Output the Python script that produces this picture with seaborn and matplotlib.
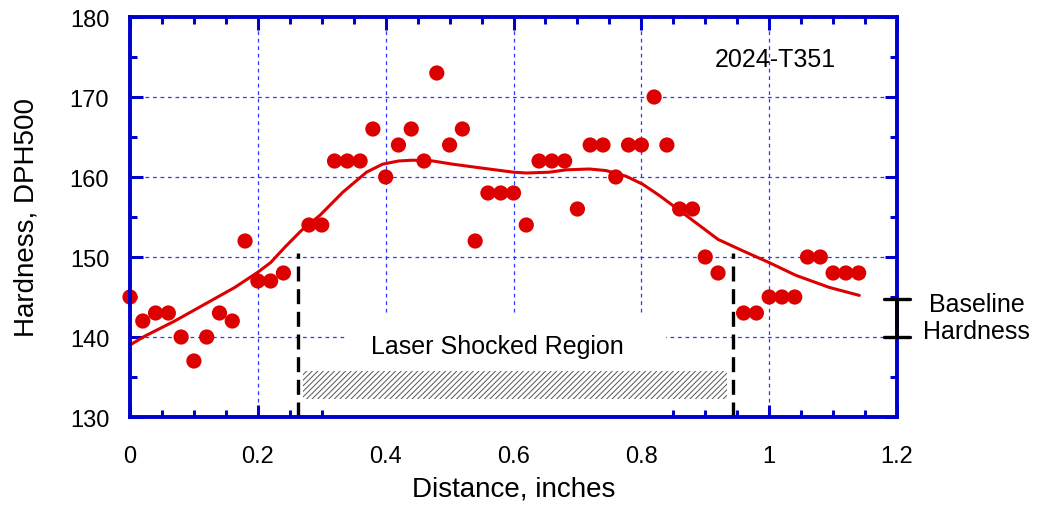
import matplotlib
matplotlib.use("Agg")
import matplotlib.pyplot as plt
from matplotlib.patches import Rectangle
from matplotlib.ticker import MultipleLocator
import seaborn as sns
import pandas as pd

# Microhardness traverse across a laser shocked 2024-T351 plate
distance = [0.00, 0.02, 0.04, 0.06, 0.08, 0.10, 0.12, 0.14, 0.16, 0.18,
            0.20, 0.22, 0.24, 0.28, 0.30, 0.32, 0.34, 0.36, 0.38, 0.40,
            0.42, 0.44, 0.46, 0.48, 0.50, 0.52, 0.54, 0.56, 0.58, 0.60,
            0.62, 0.64, 0.66, 0.68, 0.70, 0.72, 0.74, 0.76, 0.78, 0.80,
            0.82, 0.84, 0.86, 0.88, 0.90, 0.92, 0.96, 0.98, 1.00, 1.02,
            1.04, 1.06, 1.08, 1.10, 1.12, 1.14]
hardness = [145, 142, 143, 143, 140, 137, 140, 143, 142, 152,
            147, 147, 148, 154, 154, 162, 162, 162, 166, 160,
            164, 166, 162, 173, 164, 166, 152, 158, 158, 158,
            154, 162, 162, 162, 156, 164, 164, 160, 164, 164,
            170, 164, 156, 156, 150, 148, 143, 143, 145, 145,
            145, 150, 150, 148, 148, 148]

# Smoothed trend through the measurements
trend_x = [0.000, 0.023, 0.070, 0.117, 0.164, 0.200, 0.220, 0.242, 0.268,
           0.297, 0.333, 0.370, 0.395, 0.420, 0.442, 0.474, 0.505, 0.552,
           0.600, 0.620, 0.656, 0.683, 0.719, 0.745, 0.776, 0.802, 0.828,
           0.860, 0.890, 0.920, 0.958, 1.000, 1.042, 1.094, 1.141]
trend_y = [139.0, 140.1, 142.0, 144.1, 146.2, 148.1, 149.3, 151.2, 153.3,
           155.2, 158.1, 160.6, 161.6, 162.0, 162.1, 162.0, 161.6, 161.1,
           160.6, 160.5, 160.6, 160.9, 161.0, 160.8, 160.1, 159.1, 157.7,
           155.8, 154.0, 152.2, 150.8, 149.3, 147.7, 146.2, 145.2]

# Extent of the shocked zone and baseline band
shock_edges = [0.263, 0.943]
shock_line_top = 150.5
baseline_band = [140.0, 144.8]

x_ticks = [0, 0.2, 0.4, 0.6, 0.8, 1.0, 1.2]
x_tick_labels = ["0", "0.2", "0.4", "0.6", "0.8", "1", "1.2"]
y_ticks = [130, 140, 150, 160, 170, 180]
y_tick_labels = ["130", "140", "150", "160", "170", "180"]

sns.set_style("ticks")
plt.rcParams["font.family"] = ["Liberation Sans", "DejaVu Sans"]
plt.rcParams["hatch.linewidth"] = 0.7
plt.rcParams["text.color"] = "black"
plt.rcParams["axes.labelcolor"] = "black"

BLUE = "#0000cc"
RED = "#dd0000"

fig = plt.figure(figsize=(10.39, 5.10), dpi=100)
ax = fig.add_axes([130 / 1039, 1 - 418 / 510, 767 / 1039, 400 / 510])

pts = pd.DataFrame({"distance": distance, "hardness": hardness})
trend = pd.DataFrame({"x": trend_x, "y": trend_y})

sns.lineplot(data=trend, x="x", y="y", sort=False, estimator=None,
             color=RED, linewidth=2.2, ax=ax, zorder=3)
sns.scatterplot(data=pts, x="distance", y="hardness", color=RED, s=120,
                edgecolor="none", linewidth=0, ax=ax, zorder=4, clip_on=False)

ax.set_xlim(0, 1.2)
ax.set_ylim(130, 180)

# grid
ax.set_axisbelow(True)
ax.grid(True, which="major", color="#2a3cff", linestyle=(0, (3, 3)),
        linewidth=0.9)

# white panel behind the region label and hatch
ax.add_patch(Rectangle((0.336, 130), 0.839 - 0.336, 12.6,
                       facecolor="white", edgecolor="none", zorder=1))
ax.add_patch(Rectangle((0.270, 132.3), 0.934 - 0.270, 3.5,
                       facecolor="white", edgecolor="#555555", hatch="//////",
                       linewidth=0, zorder=1.2))

for xe in shock_edges:
    ax.plot([xe, xe], [130, shock_line_top], color="black", linewidth=2.4,
            linestyle=(0, (4.5, 2.3)), zorder=2)

ax.text(0.574, 138.9, "Laser Shocked Region", ha="center", va="center",
        fontsize=18, color="black", zorder=5)
ax.text(1.009, 174.7, "2024-T351", ha="center", va="center", fontsize=18,
        color="black")

# baseline bracket on the right axis
bx = 1.2
cap = 0.021
ax.plot([bx, bx], baseline_band, color="black", linewidth=2.6,
        clip_on=False, zorder=9, solid_capstyle="butt")
for yb in baseline_band:
    ax.plot([bx - cap, bx + cap], [yb, yb], color="black", linewidth=2.4,
            clip_on=False, zorder=9)
ax.text(1.325, sum(baseline_band) / 2, "Baseline\nHardness", ha="center",
        va="center", fontsize=18, linespacing=1.15, color="black")

# axes styling
for sp in ax.spines.values():
    sp.set_visible(True)
    sp.set_color(BLUE)
    sp.set_linewidth(2.8)
    sp.set_zorder(7)

ax.set_xticks(x_ticks)
ax.set_xticklabels(x_tick_labels)
ax.set_yticks(y_ticks)
ax.set_yticklabels(y_tick_labels)
ax.xaxis.set_minor_locator(MultipleLocator(0.05))
ax.yaxis.set_minor_locator(MultipleLocator(5))
ax.tick_params(which="both", direction="in", top=True, right=True,
               color=BLUE, width=2.2, labelsize=17, labelcolor="black")
ax.tick_params(which="major", length=9)
ax.tick_params(which="minor", length=5)
ax.tick_params(axis="x", which="major", pad=20)
ax.tick_params(axis="y", which="major", pad=15)

ax.set_xlabel("Distance, inches", fontsize=20, labelpad=6, color="black")
ax.set_ylabel("Hardness, DPH500", fontsize=20, labelpad=22, color="black")

fig.savefig("out.png", dpi=100)
